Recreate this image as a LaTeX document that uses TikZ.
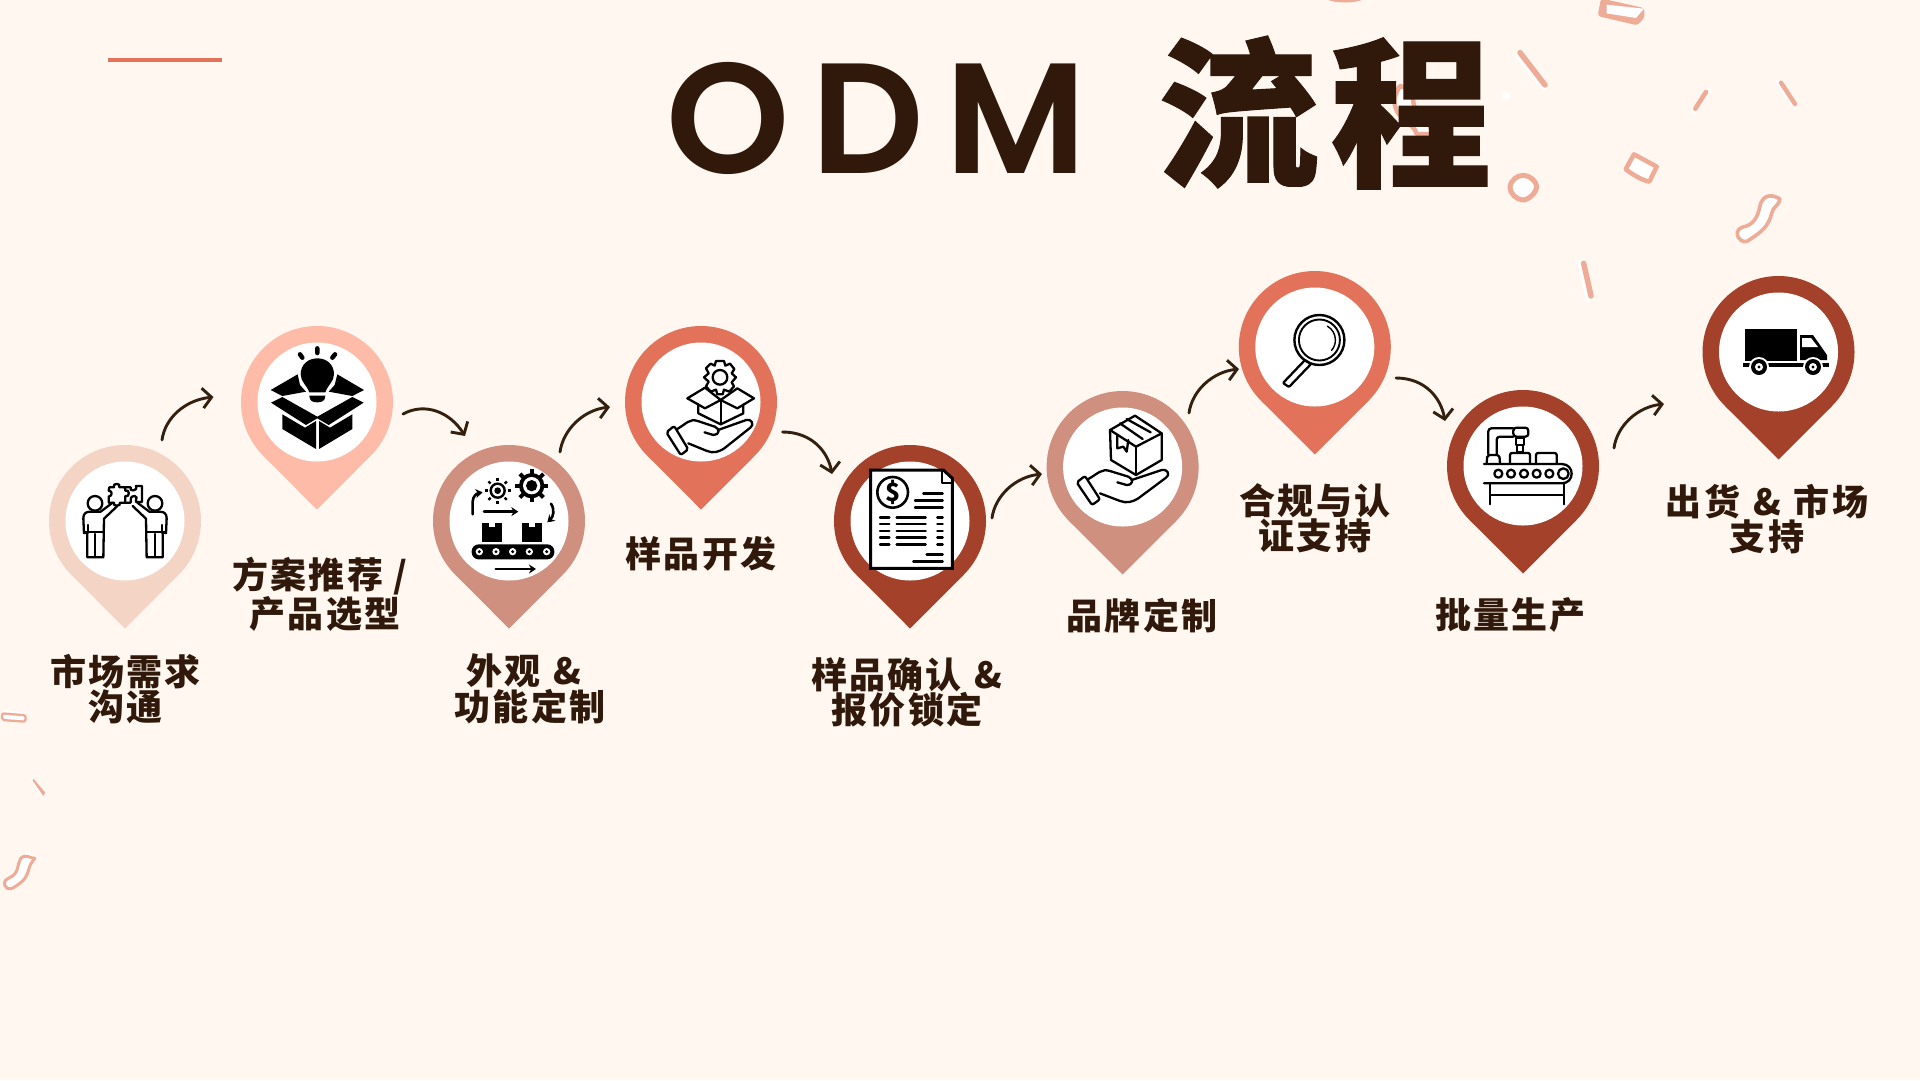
\documentclass[tikz,border=0pt]{standalone}
\usepackage{fontspec}
\usetikzlibrary{arrows.meta}
\newfontfamily\lblfont[LetterSpace=6]{Noto Sans CJK SC}
\newfontfamily\ttlcjk[LetterSpace=7,FakeBold=0.7]{Noto Sans CJK SC}
\newfontfamily\ttllat[LetterSpace=14]{Poppins SemiBold}
\definecolor{bg}{HTML}{FFF7F0}
\definecolor{ink}{HTML}{30190A}
\definecolor{arrowink}{HTML}{33200F}
\definecolor{pa}{HTML}{F4D5C5}
\definecolor{pb}{HTML}{FDBBA8}
\definecolor{pc}{HTML}{D09080}
\definecolor{pd}{HTML}{E2735A}
\definecolor{pe}{HTML}{A4412B}
\definecolor{conf}{HTML}{EEAB96}
\newcommand\gapsp{\hspace{13pt}}
\tikzset{
  head/.style={circle,inner sep=0pt,minimum size=152pt},
  hole/.style={circle,inner sep=0pt,minimum size=119pt,fill=white},
  lbl/.style={font=\lblfont\bfseries\fontsize{36}{35.5}\selectfont,text=ink,align=center,inner sep=0pt},
  conn/.style={draw=arrowink,line width=2.9pt,line cap=round,-{Straight Barb[length=9pt,width=20pt,line width=2.9pt]}},
  ico/.style={draw=black,line width=2.3pt,line cap=round,line join=round},
  zoomframe/.style={x=0.33333pt,y=-0.33333pt},
  confs/.style={draw=conf,line width=5.5pt,line cap=round,line join=round},
  confw/.style={draw=white,line width=5.5pt,line cap=round,line join=round},
  confo/.style={draw=conf,fill=white,line width=4.5pt,line join=round,line cap=round},
}
\newcommand\pin[4]{%
  \node[head,fill=#4] (#1o) at (#2,#3) {};
  \fill[#4] (#2-53.74,#3+53.74) -- (#2,#3+107.5) -- (#2+53.74,#3+53.74) -- cycle;
  \node[hole] (#1) at (#2,#3) {};
}
\newcommand\handicon{%
  \draw[ico,rounded corners=2pt] (50,232) -- (75,213) -- (120,283) -- (96,300) -- cycle;
  \draw[ico] (85,222) .. controls (115,205) and (125,190) .. (150,198) -- (205,215) .. controls (222,222) and (220,240) .. (200,240) -- (172,232);
  \draw[ico] (215,225) -- (305,195) .. controls (322,190) and (332,210) .. (318,218) -- (235,280) .. controls (215,292) and (200,295) .. (180,288) -- (120,265);
}
\newcommand\halfperson{%
  \draw[ico] (105,100) circle (22);
  \draw[ico] (72,190) -- (70,145) .. controls (70,130) and (78,125) .. (92,125) -- (122,125) -- (158,98);
  \draw[ico] (72,190) -- (84,190) -- (84,165);
  \draw[ico] (172,108) -- (132,146) -- (130,262) -- (82,262) -- (82,190);
  \draw[ico] (106,192) -- (106,262);
  \draw[ico] (74,185) -- (130,185);
}
\begin{document}
\begin{tikzpicture}[x=1pt,y=-1pt]
\useasboundingbox (0,0) rectangle (1920,1080);
\fill[bg] (0,0) rectangle (1920,1080);

%% confetti, top right
\begin{scope}[shift={(1300,0)},zoomframe]
  \fill[conf] (85,0) .. controls (110,10) and (160,10) .. (185,0) -- cycle;
  \fill[conf,rounded corners=3pt] (903,-5) -- (1032,24) -- (1034,52) -- (1012,76) -- (893,48) -- cycle;
  \fill[white] (920,14) -- (1032,26) -- (1008,54) -- (920,40) -- cycle;
  \draw[confw] (652,165) -- (732,263);
  \draw[confs] (660,158) -- (735,255);
  \draw[confw,line width=4.5pt] (1228,268) -- (1182,335);
  \draw[draw=conf,line width=4.6pt,line cap=round] (1218,276) -- (1186,326);
  \draw[confw,line width=4.5pt] (1433,245) -- (1478,312);
  \draw[draw=conf,line width=4.4pt,line cap=round] (1443,248) -- (1485,312);
  \draw[confw] (841,785) -- (865,900);
  \draw[confs] (851,790) -- (873,888);
  \draw[confo] (1002,463) -- (1070,500) -- (1048,545) .. controls (1025,540) and (1000,525) .. (977,508) -- cycle;
  \draw[confo,line width=5pt] (670,526) .. controls (690,526) and (710,545) .. (710,560) .. controls (708,580) and (685,600) .. (668,600) .. controls (648,598) and (630,580) .. (630,562) .. controls (632,540) and (652,526) .. (670,526) -- cycle;
  \draw[confo,line width=3.6pt] (1440,597) .. controls (1420,585) and (1395,580) .. (1382,610) .. controls (1375,640) and (1370,665) .. (1340,678) .. controls (1320,682) and (1305,690) .. (1315,712) .. controls (1325,728) and (1340,728) .. (1350,718) .. controls (1385,695) and (1405,680) .. (1415,640) .. controls (1418,620) and (1435,620) .. (1440,597) -- cycle;
  \draw[confo] (300,258) -- (338,270) .. controls (340,300) and (335,320) .. (360,345) .. controls (385,365) and (395,380) .. (395,402) -- (350,402) .. controls (345,380) and (320,370) .. (295,340) .. controls (275,310) and (285,280) .. (300,258) -- cycle;
  \fill[white] (617,288) circle (12);
\end{scope}

%% confetti, lower left
\begin{scope}[shift={(0,690)},zoomframe]
  \draw[draw=white,line width=3pt] (8,64) -- (75,72);
  \draw[draw=conf,fill=white,line width=2.3pt,rounded corners=2pt] (6,70) -- (77,76) -- (76,95) -- (6,90) -- cycle;
  \draw[confw,line width=2pt] (94,266) -- (126,318);
  \fill[conf] (100,266) -- (136,308) -- (130,318) -- (98,272) -- cycle;
  \draw[draw=white,line width=3pt] (78,490) -- (100,498);
  \draw[draw=conf,fill=white,line width=3pt,line join=round] (104,505) .. controls (90,505) and (78,490) .. (62,505) .. controls (50,525) and (60,550) .. (25,565) .. controls (12,570) and (8,585) .. (22,595) .. controls (35,600) and (45,590) .. (62,578) .. controls (85,560) and (85,535) .. (92,522) -- cycle;
\end{scope}

%% title
\draw[pd,line width=3.5pt] (108,60) -- (222,60);
\node[inner sep=0pt,anchor=base west,text=ink] (ttlodm) at (666,173.5) {\fontsize{157}{157}\selectfont\ttllat ODM};
\node[inner sep=0pt,anchor=base west,text=ink] (ttlcn) at (1158,174) {\fontsize{161}{161}\selectfont\ttlcjk\bfseries 流程};

%% pins
\pin{pa}{125}{521}{pa}
\pin{pb}{317}{402}{pb}
\pin{pcc}{509}{521}{pc}
\pin{pdd}{701}{402}{pd}
\pin{pee}{910}{521}{pe}
\pin{pff}{1122.6}{467}{pc}
\pin{pgg}{1314.8}{347}{pd}
\pin{phh}{1523}{466}{pe}
\pin{pii}{1778.5}{352}{pe}

%% icon 1: two people with puzzle
\begin{scope}[shift={(60,470)},zoomframe]
  \begin{scope}\halfperson\end{scope}
  \begin{scope}[shift={(390,0)},xscale=-1]\halfperson\end{scope}
  \draw[ico] (148,52) -- (162,52) .. controls (155,38) and (185,38) .. (178,52) -- (195,52) -- (196,62) .. controls (210,55) and (210,85) .. (196,78) -- (196,98) -- (180,98) .. controls (185,110) and (155,110) .. (162,98) -- (146,98) -- (146,80) .. controls (158,78) and (158,62) .. (146,62) -- cycle;
  \draw[ico] (196,52) -- (212,52) .. controls (205,65) and (235,65) .. (228,48) -- (246,48) -- (246,96) -- (228,96) -- (228,90) .. controls (238,78) and (212,70) .. (212,90) -- (212,98) -- (196,98);
\end{scope}

%% icon 2: bulb in a box
\begin{scope}[shift={(250,335)},zoomframe]
  \fill (178,172) .. controls (170,150) and (152,140) .. (152,118) .. controls (152,88) and (175,70) .. (202,70) .. controls (230,70) and (252,88) .. (252,118) .. controls (252,140) and (233,150) .. (226,172) -- cycle;
  \fill (178,182) -- (226,182) .. controls (226,198) and (215,202) .. (202,202) .. controls (188,202) and (178,198) .. (178,182) -- cycle;
  \draw[line width=4.5pt,line cap=round] (150,58) -- (157,68) (202,40) -- (202,54) (255,58) -- (247,68);
  \fill (62,165) -- (143,118) -- (150,150) -- (168,170) -- (97,183) -- cycle;
  \fill (342,165) -- (262,118) -- (254,150) -- (236,170) -- (307,183) -- cycle;
  \fill (63,203) -- (97,186) -- (202,245) -- (307,186) -- (341,203) -- (236,270) -- (202,250) -- (168,270) -- cycle;
  \fill (97,238) -- (165,278) -- (198,258) -- (198,342) -- (97,282) -- cycle;
  \fill (307,238) -- (240,278) -- (207,258) -- (207,342) -- (307,282) -- cycle;
\end{scope}

%% icon 3: gears and conveyor
\begin{scope}[shift={(450,465)},zoomframe]
  \fill (245,62) circle (38);
  \foreach \a in {0,45,...,315} \draw[line width=4pt] (245,62) -- ++(\a:50);
  \fill[white] (245,62) circle (26);
  \fill (245,62) circle (17);
  \draw[line width=2.4pt] (143,77) circle (21);
  \fill (143,77) circle (10);
  \foreach \a in {0,45,...,315} \draw[line width=2.4pt] (143,77) ++(\a:30) -- ++(\a:9);
  \draw[ico,line width=2.6pt,-{Stealth[length=7pt,width=9pt]}] (68,148) -- (68,110) .. controls (68,95) and (80,85) .. (98,82);
  \draw[ico,line width=2.6pt,-{Stealth[length=7pt,width=9pt]}] (102,140) -- (205,140);
  \draw[ico,line width=2.6pt,-{Stealth[length=7pt,width=9pt]}] (303,116) .. controls (315,135) and (310,155) .. (292,172);
  \fill (95,175) rectangle (155,230);
  \fill (217,175) rectangle (275,230);
  \fill[white] (116,175) rectangle (134,187);
  \fill[white] (236,175) rectangle (254,187);
  \fill[rounded corners=7pt] (65,238) rectangle (313,283);
  \foreach \x in {88,138,188,238,290} {\fill[white] (\x,260) circle (11); \fill (\x,260) circle (5);}
  \draw[ico,line width=2.6pt,-{Stealth[length=7pt,width=9pt]}] (137,312) -- (258,312);
\end{scope}

%% icon 4: hand, box and gear
\begin{scope}[shift={(650,345)},zoomframe]
  \draw[ico] (210,97) circle (22);
  \draw[ico] (198,48) -- (222,48) -- (226,62) -- (240,56) -- (253,72) -- (245,85) -- (258,97) -- (245,112) -- (252,124) -- (238,140) -- (222,134) -- (218,148) -- (202,148) -- (198,134) -- (182,140) -- (168,124) -- (176,110) -- (162,97) -- (176,85) -- (168,70) -- (182,56) -- (194,62) -- cycle;
  \draw[ico,fill=white] (112,160) -- (165,128) -- (212,165) -- (165,190) -- cycle;
  \draw[ico,fill=white] (312,160) -- (262,130) -- (212,165) -- (262,190) -- cycle;
  \draw[ico] (145,178) -- (145,205) -- (212,238) -- (280,205) -- (280,178);
  \draw[ico] (212,165) -- (212,238);
  \begin{scope}[shift={(2,30)},xscale=.94]\handicon\end{scope}
\end{scope}

%% icon 5: invoice
\begin{scope}[shift={(860,460)},zoomframe]
  \draw[ico,line width=3pt,fill=white,line join=miter] (32,30) -- (250,30) -- (277,55) -- (277,325) -- (32,325) -- cycle;
  \draw[ico,line width=2.2pt] (245,30) -- (245,70) -- (277,70);
  \draw[ico,line width=2.6pt] (98,97) circle (46);
  \node[inner sep=0pt,font=\fontsize{25}{25}\selectfont\lblfont\bfseries] (dollar) at (98,97) {\$};
  \foreach \xa/\xb/\y in {190/248/100,165/248/122,165/248/143,60/88/172,110/197/172,232/248/172,60/88/192,110/197/192,232/248/192,60/88/213,110/197/213,232/248/213,60/88/233,110/197/233,232/248/233,60/88/253,110/197/253,232/248/253,200/248/283,160/248/304}
    \draw[line width=2.4pt,line cap=round] (\xa,\y) -- (\xb,\y);
\end{scope}

%% icon 6: hand and parcel
\begin{scope}[shift={(1060,405)},zoomframe]
  \draw[ico] (225,32) -- (305,85) -- (305,165) -- (228,210) -- (153,165) -- (150,75) -- cycle;
  \draw[ico] (150,75) -- (228,125) -- (305,85);
  \draw[ico] (228,125) -- (228,210);
  \draw[ico] (180,55) -- (248,102) (200,42) -- (272,82);
  \draw[ico] (172,90) -- (172,130) -- (190,125) -- (200,140) -- (205,105);
  \handicon
\end{scope}

%% icon 7: magnifier
\draw[ico,line width=2.4pt] (pgg.center) ++(4.6,-7) circle (25);
\draw[ico,line width=1.9pt] (pgg.center) ++(4.6,-7) circle (20.5);
\draw[ico,line width=1.4pt] (pgg.center) ++(4.6,-7) ++(-60:16) arc (-60:40:16);
\draw[ico,line width=2.3pt,rounded corners=1pt] (1305,360) -- (1311,364) -- (1289,387) -- (1283,383) -- cycle;

%% icon 8: robot arm over conveyor
\begin{scope}[shift={(1460,415)},zoomframe]
  \draw[ico,rounded corners=3pt] (85,118) -- (85,40) -- (160,40);
  \draw[ico,rounded corners=3pt] (110,118) -- (110,65) -- (160,65);
  \draw[ico,rounded corners=3pt] (160,38) rectangle (205,65);
  \draw[ico] (168,70) rectangle (192,90);
  \draw[ico] (172,90) rectangle (188,112);
  \draw[ico,rounded corners=2pt] (80,145) -- (82,120) -- (118,120) -- (120,145);
  \draw[ico,rounded corners=2pt] (150,145) -- (150,114) -- (210,114) -- (210,145);
  \draw[ico,rounded corners=2pt] (228,145) -- (228,114) -- (290,114) -- (290,145);
  \draw[ico] (72,147) -- (305,147) .. controls (345,147) and (345,205) .. (305,205) -- (72,205);
  \foreach \x in {115,153,192,230,268} \draw[ico] (\x,176) circle (12);
  \draw[ico] (310,176) circle (16);
  \draw[ico] (90,205) -- (90,268) (312,205) -- (312,268) (90,240) -- (312,240);
\end{scope}

%% icon 9: truck
\fill (1745,329) rectangle (1797,361);
\fill (1800,335) -- (1813,335) -- (1827,355) -- (1827,360) -- (1800,360) -- cycle;
\fill[white] (1802,338) -- (1811,338) -- (1818,347) -- (1802,347) -- cycle;
\fill (1743,363) rectangle (1829,367);
\foreach \x in {1759,1813} {\fill[white] (\x,367) circle (10); \fill (\x,367) circle (8); \fill[white] (\x,367) circle (4); \fill (\x,367) circle (1.6);}

%% labels
\node[lbl] (la) at (125.5,689) {市场需求\\沟通};
\node[lbl] (lb) at (320,594) {方案推荐 /\\\hspace*{10pt}产品选型};
\node[lbl] (lc) at (530,689) {外观\gapsp{}\&\hspace*{12pt}\\功能定制};
\node[lbl] (ld) at (701,554) {样品开发};
\node[lbl] (le) at (907,692.5) {样品确认\gapsp{}\&\\报价锁定};
\node[lbl] (lf) at (1142,615.5) {品牌定制};
\node[lbl] (lg) at (1315,518) {合规与认\\证支持};
\node[lbl] (lh) at (1510.5,615) {批量生产};
\node[lbl] (li) at (1767,519) {出货\gapsp{}\&\gapsp{}市场\\支持};

%% connectors
\coordinate (a1s) at (162,440); \coordinate (a1e) at (213.5,397);
\coordinate (a2s) at (403,414); \coordinate (a2e) at (465,436);
\coordinate (a3s) at (560,452); \coordinate (a3e) at (610,407);
\coordinate (a4s) at (782.5,432); \coordinate (a4e) at (832,474);
\coordinate (a5s) at (992,518); \coordinate (a5e) at (1042,474);
\coordinate (a6s) at (1189,413); \coordinate (a6e) at (1239,369);
\coordinate (a7s) at (1396,378); \coordinate (a7e) at (1445,421);
\coordinate (a8s) at (1614,448); \coordinate (a8e) at (1664,404);
\draw[conn] (a1s) .. controls (165,418) and (185,400) .. (a1e);
\draw[conn] (a2s) .. controls (425,402) and (450,412) .. (a2e);
\draw[conn] (a3s) .. controls (563,430) and (583,410) .. (a3e);
\draw[conn] (a4s) .. controls (812,432) and (828,452) .. (a4e);
\draw[conn] (a5s) .. controls (995,496) and (1015,477) .. (a5e);
\draw[conn] (a6s) .. controls (1192,391) and (1212,372) .. (a6e);
\draw[conn] (a7s) .. controls (1425,378) and (1441,398) .. (a7e);
\draw[conn] (a8s) .. controls (1617,426) and (1637,407) .. (a8e);
\end{tikzpicture}
\end{document}
